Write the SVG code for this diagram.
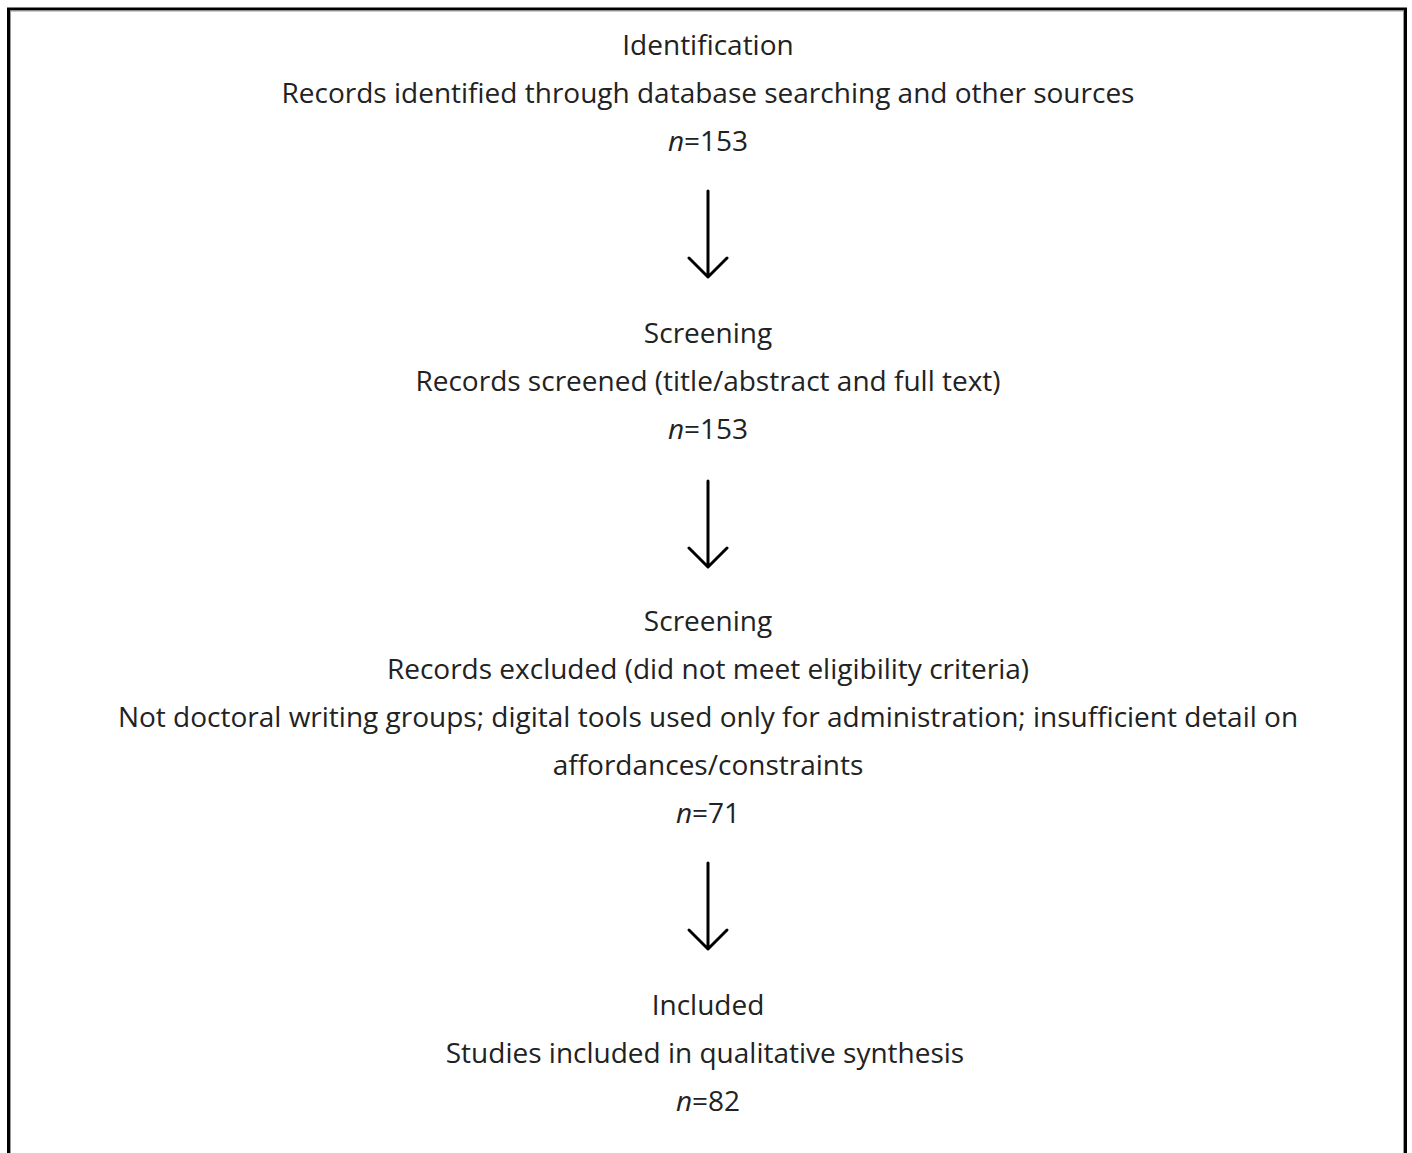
<svg xmlns="http://www.w3.org/2000/svg" width="1412" height="1153" viewBox="0 0 1412 1153">
  <style>
    .t { font-family: "Open Sans", "Noto Sans", "DejaVu Sans", sans-serif; font-size: 28px; fill: #222; text-anchor: middle; }
    .i { font-style: italic; }
    .arrow { stroke: #000; stroke-width: 3; fill: none; stroke-linecap: round; stroke-linejoin: round; }
  </style>
  <rect x="0" y="0" width="1412" height="1153" fill="#fff"/>
  <!-- outer frame, open at the bottom edge of the page -->
  <path d="M8.5 1160 V9 H1405.5 V1160" fill="none" stroke="#000" stroke-width="3"/>
  <path d="M10.5 1160 V11 H1403.5 V1160" fill="none" stroke="#999" stroke-width="1"/>

  <g id="identification">
    <text class="t" x="708" y="55">Identification</text>
    <text class="t" x="708" y="103">Records identified through database searching and other sources</text>
    <text class="t" x="708" y="151"><tspan class="i">n</tspan>=153</text>
  </g>
  <g id="screening-records">
    <text class="t" x="708" y="343">Screening</text>
    <text class="t" x="708" y="391">Records screened (title/abstract and full text)</text>
    <text class="t" x="708" y="439"><tspan class="i">n</tspan>=153</text>
  </g>
  <g id="screening-excluded">
    <text class="t" x="708" y="631">Screening</text>
    <text class="t" x="708" y="679">Records excluded (did not meet eligibility criteria)</text>
    <text class="t" x="708" y="727">Not doctoral writing groups; digital tools used only for administration; insufficient detail on</text>
    <text class="t" x="708" y="775">affordances/constraints</text>
    <text class="t" x="708" y="823"><tspan class="i">n</tspan>=71</text>
  </g>
  <g id="included">
    <text class="t" x="708" y="1015">Included</text>
    <text class="t" x="705" y="1063">Studies included in qualitative synthesis</text>
    <text class="t" x="708" y="1111"><tspan class="i">n</tspan>=82</text>
  </g>

  <g id="connectors">
    <path class="arrow" d="M708 191 V276 M689 258 L708 277 L727 258"/>
    <path class="arrow" d="M708 481 V566 M689 548 L708 567 L727 548"/>
    <path class="arrow" d="M708 863 V948 M689 930 L708 949 L727 930"/>
  </g>
</svg>
